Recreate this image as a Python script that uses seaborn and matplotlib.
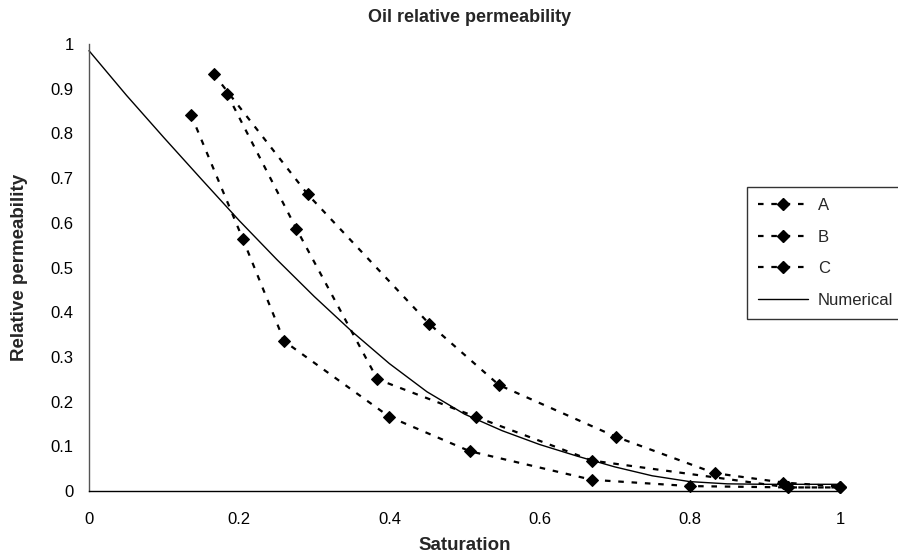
import matplotlib
matplotlib.use("Agg")
import matplotlib.pyplot as plt
import seaborn as sns
import pandas as pd
from matplotlib.lines import Line2D

# ---- data ----
a_x = [0.166, 0.291, 0.453, 0.546, 0.702, 0.833, 0.924, 1.0]
a_y = [0.933, 0.664, 0.374, 0.237, 0.121, 0.040, 0.019, 0.010]

b_x = [0.184, 0.276, 0.384, 0.515, 0.670, 0.931, 1.0]
b_y = [0.888, 0.587, 0.250, 0.166, 0.068, 0.008, 0.008]

c_x = [0.136, 0.205, 0.260, 0.400, 0.507, 0.670, 0.800, 0.931, 1.0]
c_y = [0.841, 0.563, 0.335, 0.166, 0.089, 0.025, 0.011, 0.008, 0.008]

num_x = [0.0, 0.05, 0.10, 0.15, 0.20, 0.25, 0.30, 0.35, 0.40, 0.45, 0.50,
         0.55, 0.60, 0.65, 0.70, 0.75, 0.80, 0.85, 0.90, 0.95, 1.0]
num_y = [0.985, 0.885, 0.79, 0.697, 0.605, 0.518, 0.435, 0.357, 0.285, 0.222, 0.172,
         0.135, 0.104, 0.078, 0.054, 0.034, 0.021, 0.016, 0.015, 0.015, 0.015]

x_ticks = [0, 0.2, 0.4, 0.6, 0.8, 1]
x_tick_labels = ["0", "0.2", "0.4", "0.6", "0.8", "1"]
y_ticks = [0, 0.1, 0.2, 0.3, 0.4, 0.5, 0.6, 0.7, 0.8, 0.9, 1]
y_tick_labels = ["0", "0.1", "0.2", "0.3", "0.4", "0.5", "0.6", "0.7", "0.8", "0.9", "1"]

series_names = ["A", "B", "C"]

sns.set_style("white")
plt.rcParams["font.family"] = ["Liberation Sans", "DejaVu Sans"]

fig = plt.figure(figsize=(8.98, 5.57), dpi=100)
ax = fig.add_axes([89 / 898, 1 - 491 / 557, (840 - 89) / 898, (491 - 44) / 557])

dash = (2.5, 3.5)
for name, xs, ys in zip(series_names, [a_x, b_x, c_x], [a_y, b_y, c_y]):
    df = pd.DataFrame({"x": xs, "y": ys})
    sns.lineplot(data=df, x="x", y="y", ax=ax, color="black", linewidth=1.6,
                 marker="D", markersize=6.5, markeredgecolor="black",
                 markerfacecolor="black", clip_on=False, sort=False)
    ax.lines[-1].set_dashes(dash)

dfn = pd.DataFrame({"x": num_x, "y": num_y})
sns.lineplot(data=dfn, x="x", y="y", ax=ax, color="black", linewidth=1.0, clip_on=False)

ax.set_xlim(0, 1)
ax.set_ylim(0, 1)
ax.set_xticks(x_ticks)
ax.set_xticklabels(x_tick_labels)
ax.set_yticks(y_ticks)
ax.set_yticklabels(y_tick_labels)
ax.tick_params(axis="both", direction="out", length=5, width=1, color="black",
               labelsize=12, labelcolor="black", pad=6)
ax.tick_params(axis="x", pad=10)
for s in ["top", "right"]:
    ax.spines[s].set_visible(False)
for s in ["left", "bottom"]:
    ax.spines[s].set_color("black")
    ax.spines[s].set_linewidth(1.0)
ax.spines["left"].set_color("#555555")

ax.set_xlabel("Saturation", fontsize=13.5, fontweight="bold", labelpad=7)
ax.set_ylabel("Relative permeability", fontsize=13.5, fontweight="bold", labelpad=16)
fig.text(470 / 898, 1 - 18 / 557, "Oil relative permeability", ha="center", va="center",
         fontsize=13, fontweight="bold")

handles = []
for name in series_names:
    handles.append(Line2D([], [], color="black", linewidth=1.6, dashes=dash,
                          marker="D", markersize=6.5, label=name))
handles.append(Line2D([], [], color="black", linewidth=1.0, label="Numerical"))
leg = ax.legend(handles=handles, loc="upper left",
                bbox_to_anchor=(747 / 898, 1 - 187 / 557), bbox_transform=fig.transFigure,
                frameon=True, fancybox=False, fontsize=12, handlelength=3.0,
                labelspacing=1.0, borderpad=0.65, handletextpad=0.6, borderaxespad=0)
leg.get_frame().set_edgecolor("black")
leg.get_frame().set_linewidth(1.0)

fig.savefig("out.png", dpi=100)
